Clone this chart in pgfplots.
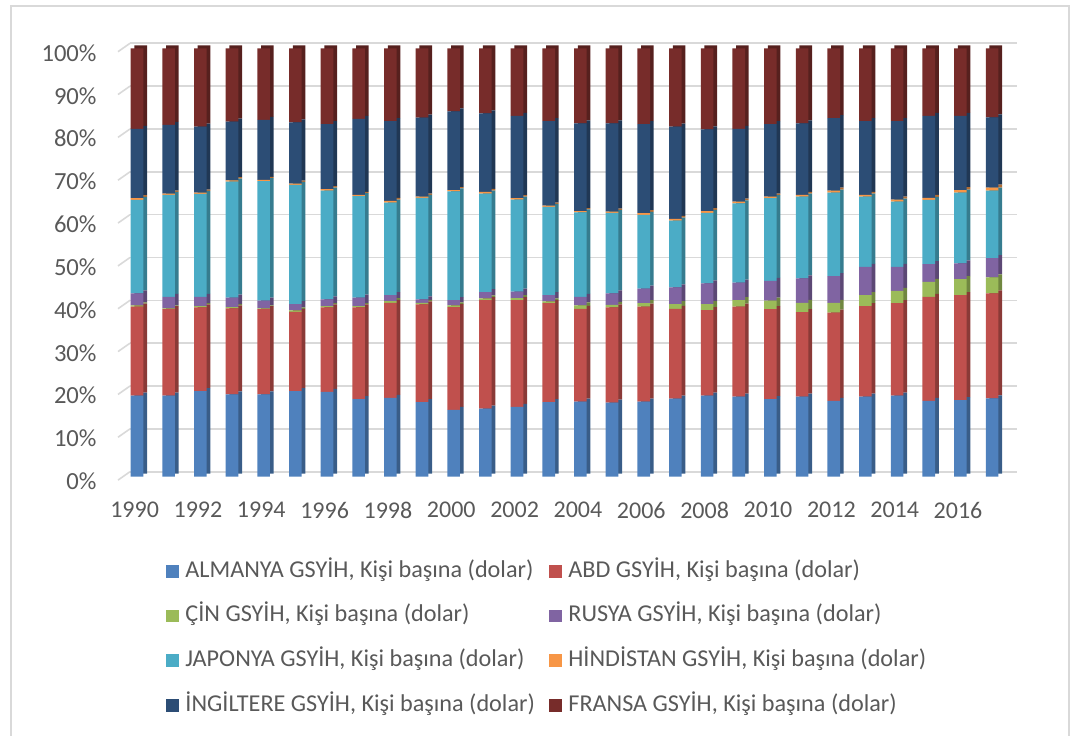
\documentclass[border=0pt]{standalone}
\usepackage{pgfplots}
\pgfplotsset{compat=1.18}
\usepackage{pgfplotstable}
\usepackage{fontspec}
\setmainfont{Carlito}

\definecolor{cAlm}{HTML}{4F81BD}
\definecolor{cAbd}{HTML}{C0504D}
\definecolor{cCin}{HTML}{9BBB59}
\definecolor{cRus}{HTML}{8064A2}
\definecolor{cJap}{HTML}{4BACC6}
\definecolor{cHin}{HTML}{F79646}
\definecolor{cIng}{HTML}{2C4D75}
\definecolor{cFra}{HTML}{772C2A}
\definecolor{gridC}{HTML}{D9D9D9}
\definecolor{frameC}{HTML}{D9D9D9}
\definecolor{labC}{HTML}{595959}

\pgfplotstableread{
year alm abd cin rus jap hin ing fra
1990 18.9 20.8 0.3 2.8 21.8 0.4 16.2 18.8
1991 18.9 20.2 0.2 2.7 23.8 0.3 16.0 17.9
1992 20.0 19.5 0.3 2.2 24.0 0.3 15.4 18.3
1993 19.2 20.1 0.3 2.2 27.1 0.3 13.7 17.1
1994 19.2 19.9 0.2 1.8 27.9 0.3 14.0 16.7
1995 20.0 18.5 0.3 1.5 27.8 0.3 14.3 17.3
1996 19.8 19.7 0.3 1.6 25.4 0.3 15.2 17.7
1997 18.1 21.4 0.3 2.0 23.7 0.3 17.7 16.5
1998 18.4 22.2 0.4 1.4 21.6 0.4 18.6 17.0
1999 17.4 22.8 0.4 0.8 23.7 0.3 18.4 16.2
2000 15.6 24.0 0.4 1.2 25.4 0.3 18.4 14.7
2001 15.9 25.3 0.4 1.5 23.0 0.4 18.3 15.2
2002 16.3 24.9 0.5 1.5 21.5 0.3 19.2 15.8
2003 17.4 23.1 0.4 1.5 20.6 0.3 19.7 17.0
2004 17.5 21.7 0.8 2.0 19.7 0.3 20.5 17.5
2005 17.3 22.2 0.6 2.7 18.8 0.3 20.6 17.5
2006 17.5 22.2 0.8 3.4 17.2 0.4 20.8 17.7
2007 18.2 21.0 1.1 3.9 15.6 0.4 21.5 18.3
2008 18.9 20.0 1.4 4.8 16.5 0.4 19.1 18.9
2009 18.7 21.0 1.5 4.1 18.5 0.4 17.0 18.8
2010 18.1 21.0 2.0 4.6 19.3 0.4 16.9 17.7
2011 18.7 19.7 2.2 5.7 19.1 0.4 16.7 17.5
2012 17.7 20.6 2.3 6.2 19.5 0.5 16.9 16.3
2013 18.7 21.1 2.6 6.6 16.4 0.4 17.2 17.0
2014 18.9 21.6 2.9 5.6 15.2 0.5 18.3 17.0
2015 17.7 24.3 3.5 4.1 15.0 0.5 19.1 15.8
2016 17.9 24.5 3.7 3.7 16.5 0.6 17.3 15.8
2017 18.3 24.5 3.7 4.5 15.8 0.7 16.4 16.1
}\gdpdata

\pgfplotsset{
  base/.style={
    scale only axis, width=443.5pt, height=214.2pt,
    xmin=1989.558, xmax=2017.566, ymin=0, ymax=100,
    clip=false, anchor=south west,
    axis line style={draw=none}, tick style={draw=none},
  },
  bars/.style={ybar stacked, bar width=6.3pt},
  sq/.style={legend image code/.code={\fill[##1] (0pt,-3.2pt) rectangle (6.4pt,3.2pt);}},
}

\begin{document}
\begin{tikzpicture}
\path[use as bounding box] (0,0) rectangle (537.5pt,367.5pt);
\draw[frameC, line width=0.8pt] (5.5pt,-2pt) -- (5.5pt,364.5pt) -- (534.5pt,364.5pt) -- (534.5pt,-2pt);

% back plane grid
\begin{axis}[base, at={(65pt,131.65pt)}, xtick=\empty, ytick={0,10,...,100},
  yticklabels={}, yticklabel style={text opacity=0}, ymajorgrids, grid style={gridC, line width=0.8pt}]
\pgfplotsinvokeforeach{0,10,...,100}{\draw[gridC, line width=0.8pt] (axis cs:1989.558,#1) -- ++(-6pt,-4.2pt);}
\end{axis}

% side / top faces (darker)
\begin{axis}[base, bars, at={(63.35pt,130.65pt)}, xtick=\empty, ytick=\empty]
\addplot[draw=none, fill=cAlm!72!black] table[x=year,y=alm]{\gdpdata};
\addplot[draw=none, fill=cAbd!72!black] table[x=year,y=abd]{\gdpdata};
\addplot[draw=none, fill=cCin!72!black] table[x=year,y=cin]{\gdpdata};
\addplot[draw=none, fill=cRus!72!black] table[x=year,y=rus]{\gdpdata};
\addplot[draw=none, fill=cJap!72!black] table[x=year,y=jap]{\gdpdata};
\addplot[draw=none, fill=cHin!72!black] table[x=year,y=hin]{\gdpdata};
\addplot[draw=none, fill=cIng!72!black] table[x=year,y=ing]{\gdpdata};
\addplot[draw=none, fill=cFra!72!black] table[x=year,y=fra]{\gdpdata};
\end{axis}

% front faces
\begin{axis}[base, bars, at={(61.5pt,129.15pt)},
  /pgf/number format/assume math mode=true,
  xtick={1990,1992,...,2016},
  xticklabel style={/pgf/number format/1000 sep={}, font=\fontsize{12}{14.4}\selectfont, text=labC, yshift=-9.3pt, xshift=-1.2pt},
  ytick={0,10,...,100},
  yticklabel={\pgfmathprintnumber{\tick}\%},
  yticklabel style={font=\fontsize{12.3}{14.4}\selectfont, text=labC, xshift=-9.7pt, yshift=-2.3pt},
  legend columns=2, legend cell align=left,
  legend style={at={(axis description cs:0.0485,-0.1947)}, anchor=north west,
    draw=none, fill=none, inner sep=0pt, outer sep=0pt,
    row sep=11.4pt, column sep=0pt,
    font=\fontsize{12.1}{14.4}\selectfont, text=labC,
    nodes={inner sep=0pt, text height=8.5pt, text depth=2.5pt},
    /tikz/every odd column/.append style={column sep=3.3pt},
    /tikz/every even column/.append style={column sep=7pt}},
]
\addplot[draw=none, fill=cAlm, sq] table[x=year,y=alm]{\gdpdata};
\addlegendentry{ALMANYA GSYİH, Kişi başına (dolar)}
\addplot[draw=none, fill=cAbd, sq] table[x=year,y=abd]{\gdpdata};
\addlegendentry{ABD GSYİH, Kişi başına (dolar)}
\addplot[draw=none, fill=cCin, sq] table[x=year,y=cin]{\gdpdata};
\addlegendentry{ÇİN GSYİH, Kişi başına (dolar)}
\addplot[draw=none, fill=cRus, sq] table[x=year,y=rus]{\gdpdata};
\addlegendentry{RUSYA GSYİH, Kişi başına (dolar)}
\addplot[draw=none, fill=cJap, sq] table[x=year,y=jap]{\gdpdata};
\addlegendentry{JAPONYA GSYİH, Kişi başına (dolar)}
\addplot[draw=none, fill=cHin, sq] table[x=year,y=hin]{\gdpdata};
\addlegendentry{HİNDİSTAN GSYİH, Kişi başına (dolar)}
\addplot[draw=none, fill=cIng, sq] table[x=year,y=ing]{\gdpdata};
\addlegendentry{İNGİLTERE GSYİH, Kişi başına (dolar)}
\addplot[draw=none, fill=cFra, sq] table[x=year,y=fra]{\gdpdata};
\addlegendentry{FRANSA GSYİH, Kişi başına (dolar)}
\end{axis}
\end{tikzpicture}
\end{document}
